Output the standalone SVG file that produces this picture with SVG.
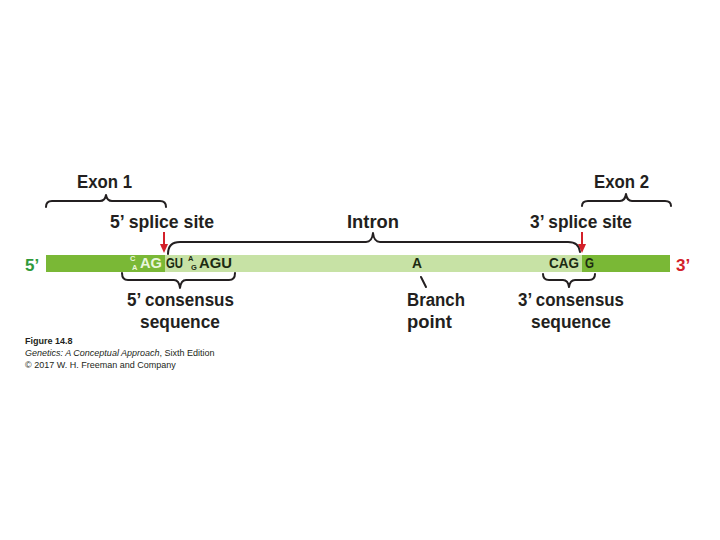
<svg xmlns="http://www.w3.org/2000/svg" width="720" height="540" viewBox="0 0 720 540">
<defs>
<style>
.lbl{font-family:"Liberation Sans",Arial,sans-serif;font-weight:bold;font-size:18px;fill:#231f20}
.seq{font-family:"Liberation Sans",Arial,sans-serif;font-weight:bold;font-size:15px}
.sm{font-family:"Liberation Sans",Arial,sans-serif;font-weight:bold;font-size:7.5px}
.dk{fill:#1c2b12}
.lt{fill:#eaf6dc}
.brace{fill:none;stroke:#231f20;stroke-width:2;stroke-linecap:round;stroke-linejoin:round}
.arrow{stroke:#d3202a;stroke-width:2;fill:none}
.head{fill:#d3202a}
.cap{font-family:"Liberation Sans",Arial,sans-serif;font-size:9px;fill:#231f20}
</style>
</defs>
<rect width="720" height="540" fill="#ffffff"/>

<g id="bar">
<rect x="46" y="255" width="624" height="17" fill="#c7e2a5"/>
<rect x="46" y="255" width="119" height="17" fill="#7ab836"/>
<rect x="582" y="255" width="88" height="17" fill="#7ab836"/>
</g>

<g id="ends">
<text class="lbl" x="25" y="271" style="fill:#2f9a3a;font-size:17px">5’</text>
<text class="lbl" x="676" y="271" style="fill:#d3202a;font-size:17px">3’</text>
</g>

<g id="seq5">
<text class="sm lt" x="130" y="261">C</text>
<text class="sm lt" x="132" y="270">A</text>
<text class="seq lt" x="140" y="268" textLength="22" lengthAdjust="spacingAndGlyphs">AG</text>
<text class="seq dk" x="166" y="268" textLength="17" lengthAdjust="spacingAndGlyphs">GU</text>
<text class="sm dk" x="188" y="261">A</text>
<text class="sm dk" x="191" y="270">G</text>
<text class="seq dk" x="199" y="268" textLength="33" lengthAdjust="spacingAndGlyphs">AGU</text>
</g>

<g id="seq3">
<text class="seq dk" x="549" y="268" textLength="30" lengthAdjust="spacingAndGlyphs">CAG</text>
<text class="seq dk" x="585" y="268" textLength="9" lengthAdjust="spacingAndGlyphs">G</text>
</g>

<g id="branchA">
<text class="seq dk" x="412" y="268" textLength="10" lengthAdjust="spacingAndGlyphs">A</text>
</g>

<g id="exon1">
<text class="lbl" x="77" y="188" textLength="55" lengthAdjust="spacingAndGlyphs">Exon 1</text>
</g>
<g id="exon2">
<text class="lbl" x="594" y="188" textLength="55" lengthAdjust="spacingAndGlyphs">Exon 2</text>
</g>
<g id="splice5">
<text class="lbl" x="110" y="228" textLength="104" lengthAdjust="spacingAndGlyphs">5’ splice site</text>
</g>
<g id="intron">
<text class="lbl" x="347" y="228" textLength="52" lengthAdjust="spacingAndGlyphs">Intron</text>
</g>
<g id="splice3">
<text class="lbl" x="530" y="228" textLength="102" lengthAdjust="spacingAndGlyphs">3’ splice site</text>
</g>
<g id="cons5">
<text class="lbl" x="127" y="306" textLength="107" lengthAdjust="spacingAndGlyphs">5’ consensus</text>
<text class="lbl" x="140" y="328" textLength="80" lengthAdjust="spacingAndGlyphs">sequence</text>
</g>
<g id="branch">
<text class="lbl" x="407" y="306" textLength="58" lengthAdjust="spacingAndGlyphs">Branch</text>
<text class="lbl" x="407" y="328" textLength="45" lengthAdjust="spacingAndGlyphs">point</text>
</g>
<g id="cons3">
<text class="lbl" x="518" y="306" textLength="106" lengthAdjust="spacingAndGlyphs">3’ consensus</text>
<text class="lbl" x="531" y="328" textLength="80" lengthAdjust="spacingAndGlyphs">sequence</text>
</g>

<g id="connectors">
<path class="brace" d="M46,207 Q46,201 52,201 L100,201 Q105,201 106,195 Q107,201 112,201 L160,201 Q166,201 166,207"/>
<path class="brace" d="M168,254 Q168,242 180,242 L366,242 Q372,242 373,233 Q374,242 380,242 L568,242 Q579,242 580,252"/>
<path class="brace" d="M582,206 Q582,201 588,201 L620,201 Q625,201 626,194 Q627,201 632,201 L665,201 Q671,201 671,206"/>
<path class="brace" d="M122,273 Q122,280 128,280 L174,280 Q179,280 180,288 Q181,280 186,280 L229,280 Q235,280 235,273"/>
<path class="brace" d="M543,274 Q543,280 549,280 L563,280 Q568,280 569,287 Q570,280 575,280 L589,280 Q595,280 595,274"/>
<path class="brace" d="M421,277 L426,287"/>
<line class="arrow" x1="164" y1="232" x2="164" y2="245"/>
<polygon class="head" points="160,244 168,244 164,253"/>
<line class="arrow" x1="582" y1="232" x2="582" y2="245"/>
<polygon class="head" points="578,244 586,244 582,253"/>
</g>

<g id="caption">
<text class="cap" x="25" y="344" style="font-weight:bold">Figure 14.8</text>
<text class="cap" x="25" y="356"><tspan font-style="italic">Genetics: A Conceptual Approach</tspan>, Sixth Edition</text>
<text class="cap" x="25" y="368">© 2017 W. H. Freeman and Company</text>
</g>
</svg>
